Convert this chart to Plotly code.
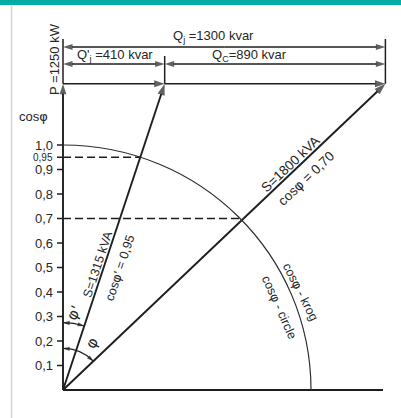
import math
import plotly.graph_objects as go

# ---------------- data ----------------
P_kW = 1250                 # active power
Q_total_kvar = 1300         # reactive power before compensation (Qj)
Q_after_kvar = 410          # reactive power after compensation (Q'j)
Q_comp_kvar = 890           # compensation (Qc)
S_before_kVA = 1800
S_after_kVA = 1315
cos_before = 0.70
cos_after = 0.95
cos_tick_vals = [0.1, 0.2, 0.3, 0.4, 0.5, 0.6, 0.7, 0.8, 0.9, 1.0]
cos_tick_text = ["0,1", "0,2", "0,3", "0,4", "0,5", "0,6", "0,7", "0,8", "0,9", "1,0"]
cos_extra_val = 0.95
cos_extra_text = "0,95"

# ---------------- layout constants ----------------
W, H = 401, 418
OX, OY = 63, 390            # origin in pixels
PXU_X, PXU_Y = 248, 245     # pixels per unit (unit = cos-circle radius)
KW_PER_UNIT = 1000.0
LINE = "#1e1e1e"
TEXT = "#262626"
FONT = "Liberation Sans, Arial, Helvetica, sans-serif"
PHI_FONT = "DejaVu Sans"
PHI = "<span style=\"font-family:'DejaVu Sans'\">\u03c6</span>"

p = P_kW / KW_PER_UNIT
q = Q_total_kvar / KW_PER_UNIT
qa = Q_after_kvar / KW_PER_UNIT


def ux(px):
    return (px - OX) / PXU_X


def uy(py):
    return (OY - py) / PXU_Y


DIM1_Y = uy(47)
DIM2_Y = uy(64)
EXT_TOP = uy(39)
EXT_MID = uy(56)

fig = go.Figure()
shapes = []
annotations = []


def arrow(x0, y0, x1, y1, width=1.7, size=11):
    """line from (x0,y0) to (x1,y1) with an arrow head at the end"""
    fig.add_trace(go.Scatter(
        x=[x0, x1], y=[y0, y1], mode="lines+markers",
        line=dict(color=LINE, width=width),
        marker=dict(symbol="arrow", size=[0, size], angleref="previous",
                    color=LINE, line=dict(width=0)),
        hoverinfo="skip", showlegend=False, cliponaxis=False))


def double_arrow(x0, y0, x1, y1, width=1.5, size=10):
    xm, ym = (x0 + x1) / 2, (y0 + y1) / 2
    arrow(xm, ym, x0, y0, width, size)
    arrow(xm, ym, x1, y1, width, size)


def head(x0, y0, x1, y1, size=7):
    fig.add_trace(go.Scatter(
        x=[x0, x1], y=[y0, y1], mode="markers",
        marker=dict(symbol="arrow", size=[0, size], angleref="previous",
                    color=LINE, line=dict(width=0)),
        hoverinfo="skip", showlegend=False, cliponaxis=False))


def seg(x0, y0, x1, y1, width=1.6, dash=None, color=LINE):
    ln = dict(color=color, width=width)
    if dash:
        ln["dash"] = dash
    return dict(type="line", xref="x", yref="y", x0=x0, y0=y0, x1=x1, y1=y1, line=ln)


def arc_path(r, t0, t1):
    k = 4.0 / 3.0 * math.tan((t1 - t0) / 4.0) * r
    p0 = (r * math.cos(t0), r * math.sin(t0))
    p3 = (r * math.cos(t1), r * math.sin(t1))
    p1 = (p0[0] - k * math.sin(t0), p0[1] + k * math.cos(t0))
    p2 = (p3[0] + k * math.sin(t1), p3[1] - k * math.cos(t1))
    return "M {:.5f},{:.5f} C {:.5f},{:.5f} {:.5f},{:.5f} {:.5f},{:.5f}".format(
        p0[0], p0[1], p1[0], p1[1], p2[0], p2[1], p3[0], p3[1])


def label(text, x, y, size=12, angle=0, xanchor="center", yanchor="middle",
          xshift=0, yshift=0, family=FONT):
    return dict(text=text, x=x, y=y, xref="x", yref="y", showarrow=False,
                textangle=angle, xanchor=xanchor, yanchor=yanchor,
                xshift=xshift, yshift=yshift,
                font=dict(family=family, size=size, color=TEXT))


# --- frame decorations ---
shapes.append(dict(type="rect", xref="paper", yref="paper", x0=0, x1=1,
                   y0=(H - 5) / H, y1=1.02, fillcolor="#00ADA5", line=dict(width=0)))
shapes.append(dict(type="line", xref="paper", yref="paper", x0=11.5 / W, x1=11.5 / W,
                   y0=0, y1=(H - 6) / H, line=dict(color="#d4d4d4", width=1.5)))

# --- axes ---
shapes.append(seg(0, 0, ux(383), 0, width=2))
arrow(0, 0, 0, p, width=1.9)
shapes.append(seg(0, p, 0, EXT_TOP, width=1.5))

# --- ticks ---
for v, t in zip(cos_tick_vals, cos_tick_text):
    shapes.append(dict(type="line", xref="x", yref="y", xsizemode="pixel", xanchor=0,
                       x0=-6, x1=0, y0=v, y1=v, line=dict(color=LINE, width=1.5)))
    annotations.append(label(t, 0, v, size=13, xanchor="right", xshift=-8))
shapes.append(dict(type="line", xref="x", yref="y", xsizemode="pixel", xanchor=0,
                   x0=-6, x1=0, y0=cos_extra_val, y1=cos_extra_val,
                   line=dict(color=LINE, width=1.5)))
annotations.append(label(cos_extra_text, 0, cos_extra_val, size=10,
                         xanchor="right", xshift=-8))
annotations.append(label("cos" + PHI, ux(33), uy(116), size=13))

# --- cos circle ---
shapes.append(dict(type="path", xref="x", yref="y",
                   path=arc_path(1.0, math.pi / 2, 0.0),
                   line=dict(color="#2e2e2e", width=1.2)))

# --- dashed cos lines ---
for c in (cos_after, cos_before):
    shapes.append(seg(0, c, math.sqrt(1 - c * c), c, width=1.6, dash="8px,4px"))

# --- power vectors ---
arrow(0, 0, qa, p, width=1.9, size=12)
arrow(0, 0, q, p, width=1.9, size=12)
arrow(0, p, qa, p, width=1.7)
arrow(qa, p, q, p, width=1.7)

# --- dimension lines ---
double_arrow(0, DIM1_Y, q, DIM1_Y)
double_arrow(0, DIM2_Y, qa, DIM2_Y)
double_arrow(qa, DIM2_Y, q, DIM2_Y)
shapes.append(seg(q, p, q, EXT_TOP, width=1.5))
shapes.append(seg(qa, p, qa, EXT_MID, width=1.5))

annotations.append(label("Q<sub>j</sub> =%d kvar" % Q_total_kvar, ux(213), DIM1_Y,
                         size=13, yanchor="bottom", yshift=0))
annotations.append(label("Q'<sub>j</sub> =%d kvar" % Q_after_kvar, ux(115), DIM2_Y,
                         size=13, yanchor="bottom", yshift=-2))
annotations.append(label("Q<sub>C</sub>=%d kvar" % Q_comp_kvar, ux(249), DIM2_Y,
                         size=13, yanchor="bottom", yshift=-2))
annotations.append(label("P =%d kW" % P_kW, ux(54), uy(59), size=13, angle=-90))

# --- vector labels ---
ang_a = -math.degrees(math.atan2(p * PXU_Y, qa * PXU_X))
ang_b = -math.degrees(math.atan2(p * PXU_Y, q * PXU_X))
annotations.append(label("S=%d kVA" % S_after_kVA, ux(98), uy(264), size=12.5, angle=ang_a))
annotations.append(label("cos" + PHI + "' = %s" % ("%.2f" % cos_after).replace(".", ","),
                         ux(119), uy(268), size=12.5, angle=ang_a))
annotations.append(label("S=%d kVA" % S_before_kVA, ux(290), uy(164), size=13.5, angle=ang_b))
annotations.append(label("cos" + PHI + " = %s" % ("%.2f" % cos_before).replace(".", ","),
                         ux(306), uy(178), size=13.5, angle=ang_b))
annotations.append(label("cos" + PHI + " - krog", ux(301), uy(291), size=12.5, angle=63))
annotations.append(label("cos" + PHI + " - circle", ux(280), uy(307), size=12.5, angle=66))

# --- angle arcs ---
t_a = math.atan2(p, qa)
t_b = math.atan2(p, q)
for r, t_end in ((0.275, t_a), (0.17, t_b)):
    shapes.append(dict(type="path", xref="x", yref="y",
                       path=arc_path(r, math.pi / 2, t_end),
                       line=dict(color=LINE, width=1.1)))
    d = math.radians(6) if r > 0.2 else math.radians(10)
    head(r * math.cos(math.pi / 2 - d), r * math.sin(math.pi / 2 - d), 0, r)
    head(r * math.cos(t_end + d), r * math.sin(t_end + d),
         r * math.cos(t_end), r * math.sin(t_end))
annotations.append(label("\u03c6'", ux(74), uy(313), size=15, angle=-60, family=PHI_FONT))
annotations.append(label("\u03c6", ux(92), uy(343), size=15, angle=-60, family=PHI_FONT))

fig.update_layout(
    width=W, height=H, margin=dict(l=0, r=0, t=0, b=0),
    paper_bgcolor="white", plot_bgcolor="white",
    xaxis=dict(visible=False, range=[ux(0), ux(W)], fixedrange=True),
    yaxis=dict(visible=False, range=[uy(H), uy(0)], fixedrange=True),
    shapes=shapes, annotations=annotations, showlegend=False,
)

fig.write_html("out.html", config={"displayModeBar": False},
               post_script="document.body.style.margin='0';")
